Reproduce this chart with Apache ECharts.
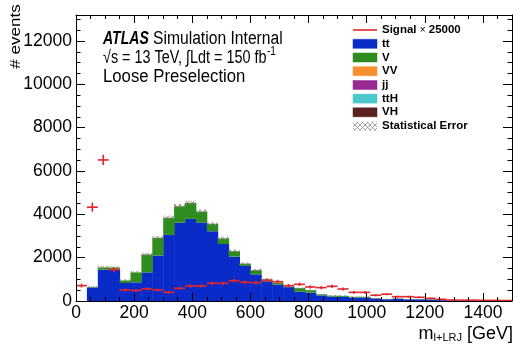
<!DOCTYPE html>
<html><head><meta charset="utf-8">
<script src="https://cdn.jsdelivr.net/npm/echarts@6/dist/echarts.min.js"></script>
<style>html,body{margin:0;padding:0;background:#fff}#c{width:521px;height:356px}</style>
</head><body><div id="c"></div>
<script>
// ---- data (40 bins of 37.5 GeV from 0 to 1500) ----
const binWidth = 37.5;
const nBins = 40;
const tt  = [0, 625, 1440, 1440, 830, 860, 1320, 2100, 3050, 3620, 3790, 3620, 3220, 2630, 2050, 1620, 1230, 910, 760, 640, 430, 385, 260, 200, 190, 155, 165, 115, 80, 100, 77, 75, 65, 40, 20, 15, 15, 12, 10, 10];
const V   = [0, 25, 110, 100, 115, 460, 825, 815, 785, 755, 735, 505, 340, 262, 252, 104, 194, 85, 90, 36, 166, 112, 48, 45, 48, 38, 28, 19, 14, 14, 9, 9, 9, 5, 5, 3, 3, 2, 2, 2];
const VV  = [0, 0, 5, 5, 4, 5, 8, 8, 10, 10, 10, 8, 6, 5, 5, 4, 3, 3, 3, 2, 2, 2, 1, 1, 1, 1, 1, 1, 0, 0, 0, 0, 0, 0, 0, 0, 0, 0, 0, 0];
const jj  = [0, 0, 3, 3, 3, 3, 4, 4, 3, 3, 3, 2, 2, 2, 1, 1, 1, 1, 1, 1, 1, 0, 0, 0, 0, 0, 0, 0, 0, 0, 0, 0, 0, 0, 0, 0, 0, 0, 0, 0];
const ttH = [0, 0, 1, 1, 2, 2, 2, 2, 3, 3, 3, 3, 2, 2, 2, 1, 1, 1, 1, 1, 0, 0, 0, 0, 0, 0, 0, 0, 0, 0, 0, 0, 0, 0, 0, 0, 0, 0, 0, 0];
const VH  = [0, 0, 1, 1, 1, 1, 1, 1, 2, 2, 2, 2, 1, 1, 1, 1, 1, 1, 0, 0, 0, 0, 0, 0, 0, 0, 0, 0, 0, 0, 0, 0, 0, 0, 0, 0, 0, 0, 0, 0];
const statErr = [0, 40, 60, 60, 45, 50, 65, 75, 85, 90, 90, 85, 80, 70, 65, 55, 50, 45, 40, 38, 35, 32, 28, 25, 25, 22, 22, 18, 15, 15, 14, 14, 12, 10, 8, 7, 7, 6, 5, 5];
const signal = [710, 4330, 6510, 1450, 508, 485, 560, 508, 400, 586, 693, 693, 817, 817, 938, 863, 847, 955, 893, 708, 770, 647, 616, 678, 554, 400, 400, 265, 315, 200, 200, 170, 123, 77, 46, 40, 40, 30, 30, 20];
const sigErr = [90, 210, 240, 110, 70, 70, 75, 70, 65, 75, 80, 80, 85, 85, 90, 85, 85, 90, 85, 80, 80, 75, 75, 75, 70, 60, 60, 50, 50, 45, 45, 40, 35, 28, 22, 20, 20, 17, 17, 14];
const xTicks = [0, 200, 400, 600, 800, 1000, 1200, 1400];
const yTicks = [0, 2000, 4000, 6000, 8000, 10000, 12000];
const legendNames = ['tt', 'V', 'VV', 'jj', 'ttH', 'VH'];
const colors = ['#0b2bc8', '#2f8c1f', '#f7902f', '#982a93', '#4bc8cc', '#5a2121'];
const layers = [tt, V, VV, jj, ttH, VH];

const xMinor = []; for (let v = 50; v < 1500; v += 50) if (v % 200) xMinor.push(v);
const yMinor = []; for (let v = 500; v <= 13000; v += 500) if (v % 2000) yMinor.push(v);

// hatch pattern for statistical error
const pc = document.createElement('canvas'); pc.width = 5; pc.height = 5;
const g = pc.getContext('2d'); g.strokeStyle = '#8a8a8a'; g.lineWidth = 0.8;
g.beginPath(); g.moveTo(0, 0); g.lineTo(5, 5); g.moveTo(0, 5); g.lineTo(5, 0); g.stroke();
const hatch = { image: pc, repeat: 'repeat' };

// cumulative stack
const cum = [];
let base = new Array(nBins).fill(0);
layers.forEach((arr, k) => {
  const d = [];
  for (let i = 0; i < nBins; i++) {
    const lo = base[i], hi = base[i] + arr[i];
    d.push([i * binWidth, (i + 1) * binWidth, lo, hi]);
  }
  base = base.map((b, i) => b + arr[i]);
  cum.push(d);
});
const total = base;

function rectItem(color) {
  return function (params, api) {
    const x0 = api.value(0), x1 = api.value(1), lo = api.value(2), hi = api.value(3);
    if (hi <= lo) return null;
    const p0 = api.coord([x0, hi]), p1 = api.coord([x1, lo]);
    return { type: 'rect', shape: { x: p0[0], y: p0[1], width: p1[0] - p0[0] + 0.5, height: p1[1] - p0[1] },
      style: { fill: color } };
  };
}

const series = layers.map((arr, k) => ({
  type: 'custom', name: legendNames[k], renderItem: rectItem(colors[k]),
  data: cum[k], encode: { x: [0, 1], y: [2, 3] }, z: 2, silent: true
}));

series.push({
  type: 'custom', name: 'Statistical Error', z: 3, silent: true,
  data: total.map((t, i) => [i * binWidth, (i + 1) * binWidth, t - statErr[i], t + statErr[i]]),
  encode: { x: [0, 1], y: [2, 3] },
  renderItem: function (params, api) {
    const x0 = api.value(0), x1 = api.value(1), lo = api.value(2), hi = api.value(3);
    if (hi <= lo) return null;
    const p0 = api.coord([x0, hi]), p1 = api.coord([x1, Math.max(lo, 0)]);
    return { type: 'rect', shape: { x: p0[0], y: p0[1], width: p1[0] - p0[0], height: p1[1] - p0[1] },
      style: { fill: hatch } };
  }
});

series.push({
  type: 'custom', name: 'Signal', z: 4, silent: true,
  data: signal.map((s, i) => [i * binWidth, (i + 1) * binWidth, s, sigErr[i]]),
  encode: { x: [0, 1], y: 2 },
  renderItem: function (params, api) {
    const x0 = api.value(0), x1 = api.value(1), v = api.value(2), e = api.value(3);
    const a = api.coord([x0, v]), b = api.coord([x1, v]);
    const xm = (a[0] + b[0]) / 2;
    const t = api.coord([x0, v + e]), u = api.coord([x0, v - e]);
    const st = { stroke: '#e3262a', lineWidth: 1.6 };
    return { type: 'group', children: [
      { type: 'line', shape: { x1: a[0], y1: a[1], x2: b[0], y2: b[1] }, style: st },
      { type: 'line', shape: { x1: xm, y1: t[1], x2: xm, y2: u[1] }, style: st }
    ] };
  }
});

const plain = v => String(v);
function axisX(pos, ticks, len, line, labels) {
  return { type: 'value', min: 0, max: 1500, position: pos, z: 10,
    axisLine: { show: line, onZero: false, lineStyle: { color: '#000', width: 1 } },
    axisTick: { show: true, inside: true, length: len, customValues: ticks, lineStyle: { color: '#000', width: 1 } },
    axisLabel: { show: labels, customValues: ticks, formatter: plain, fontSize: 17.5, fontFamily: 'Liberation Sans', color: '#000', margin: 3 },
    splitLine: { show: false } };
}
function axisY(pos, ticks, len, line, labels) {
  return { type: 'value', min: 0, max: 13200, position: pos, z: 10,
    axisLine: { show: line, onZero: false, lineStyle: { color: '#000', width: 1 } },
    axisTick: { show: true, inside: true, length: len, customValues: ticks, lineStyle: { color: '#000', width: 1 } },
    axisLabel: { show: labels, customValues: ticks, formatter: plain, fontSize: 17.5, fontFamily: 'Liberation Sans', color: '#000', margin: 4 },
    splitLine: { show: false } };
}

const F = 'Liberation Sans';
const mc = document.createElement('canvas').getContext('2d');
const line2 = '√s = 13 TeV, ∫Ldt = 150 fb';
const line2Scale = 0.8;
mc.font = '18px ' + F;
const line2End = 103 + mc.measureText(line2).width * line2Scale;

const legendRowsY = [30, 43.8, 57.5, 71.2, 85, 98.6, 112.3, 126];
const graphic = [];
graphic.push({ type: 'text', x: 103, y: 39.5, scaleX: 0.78, style: { text: 'ATLAS', font: 'italic bold 18px ' + F, fill: '#000', verticalAlign: 'middle' } });
graphic.push({ type: 'text', x: 153, y: 39.5, scaleX: 0.87, style: { text: 'Simulation Internal', font: '18px ' + F, fill: '#000', verticalAlign: 'middle' } });
graphic.push({ type: 'text', x: 103, y: 58, scaleX: line2Scale, style: { text: line2, font: '18px ' + F, fill: '#000', verticalAlign: 'middle' } });
graphic.push({ type: 'text', x: line2End + 0.5, y: 52, scaleX: 0.85, style: { text: '-1', font: '12px ' + F, fill: '#000', verticalAlign: 'middle' } });
graphic.push({ type: 'text', x: 103, y: 77, scaleX: 0.93, style: { text: 'Loose Preselection', font: '18px ' + F, fill: '#000', verticalAlign: 'middle' } });
graphic.push({ type: 'text', x: 15.5, y: 36.5, rotation: Math.PI / 2, scaleY: 0.9, style: { text: '# events', font: '17px ' + F, fill: '#000', align: 'center', verticalAlign: 'middle' } });
graphic.push({ type: 'text', x: 513, y: 343, style: { text: '{a|m}{b|l+LRJ}{a| [GeV]}', align: 'right', verticalAlign: 'bottom',
  rich: { a: { font: '18px ' + F, fill: '#000', verticalAlign: 'bottom', lineHeight: 20 }, b: { font: '11px ' + F, fill: '#000', verticalAlign: 'bottom', lineHeight: 20 } } } });

// legend
graphic.push({ type: 'line', shape: { x1: 353, y1: legendRowsY[0], x2: 377, y2: legendRowsY[0] }, style: { stroke: '#e3262a', lineWidth: 1.6 } });
graphic.push({ type: 'text', x: 382, y: legendRowsY[0], style: { text: '{b|Signal }{s|×}{b| 25000}', verticalAlign: 'middle',
  rich: { b: { font: 'bold 11.5px ' + F, fill: '#000' }, s: { font: '10px ' + F, fill: '#000' } } } });
legendNames.forEach((n, k) => {
  const yc = legendRowsY[k + 1];
  graphic.push({ type: 'rect', shape: { x: 353, y: yc - 4.5, width: 24, height: 9 }, style: { fill: colors[k], stroke: colors[k], lineWidth: 0.5 } });
  graphic.push({ type: 'text', x: 382, y: yc, style: { text: n, font: 'bold 11.5px ' + F, fill: '#000', verticalAlign: 'middle' } });
});
graphic.push({ type: 'rect', shape: { x: 353, y: legendRowsY[7] - 4.5, width: 24, height: 9 }, style: { fill: hatch } });
graphic.push({ type: 'text', x: 382, y: legendRowsY[7], style: { text: 'Statistical Error', font: 'bold 11.5px ' + F, fill: '#000', verticalAlign: 'middle' } });

const chart = echarts.init(document.getElementById('c'), null, { renderer: 'canvas' });
chart.setOption({
  animation: false,
  backgroundColor: '#fff',
  grid: { left: 76, right: 9, top: 15, bottom: 55, containLabel: false, outerBoundsMode: 'none' },
  xAxis: [axisX('bottom', xTicks, 8, true, true), axisX('bottom', xMinor, 4, false, false),
          axisX('top', xTicks, 8, true, false), axisX('top', xMinor, 4, false, false)],
  yAxis: [axisY('left', yTicks, 9, true, true), axisY('left', yMinor, 4.5, false, false),
          axisY('right', yTicks, 9, true, false), axisY('right', yMinor, 4.5, false, false)],
  series: series,
  graphic: graphic
});
</script></body></html>
